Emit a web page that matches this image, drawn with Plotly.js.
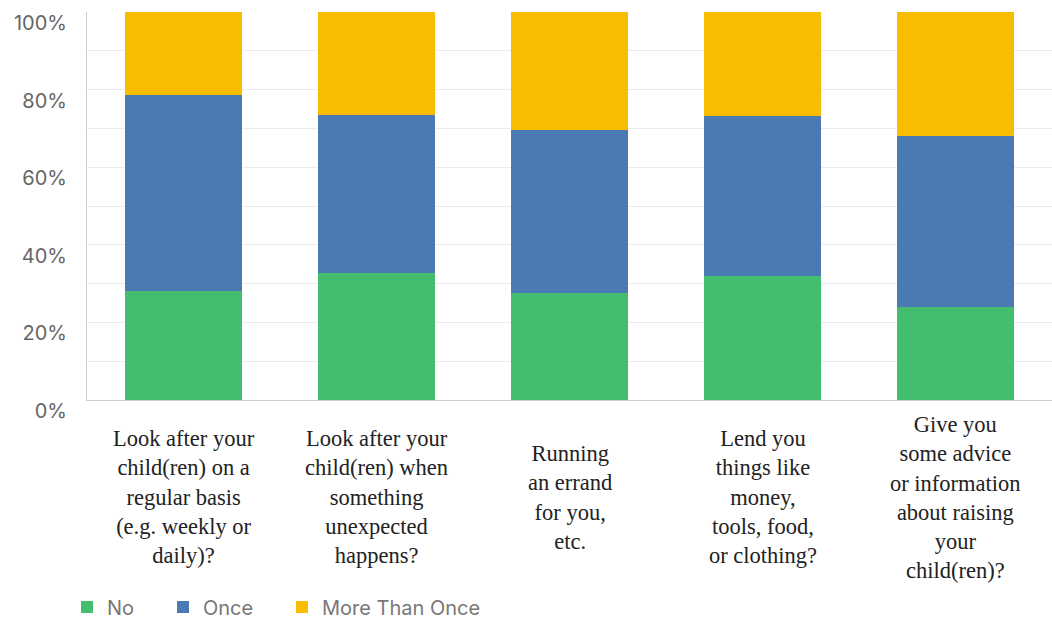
<!DOCTYPE html>
<html>
<head>
<meta charset="utf-8">
<script src="https://cdn.plot.ly/plotly-3.0.1.min.js"></script>
<style>html,body{margin:0;padding:0;background:#fff;}#chart{width:1052px;height:620px;}</style>
</head>
<body>
<div id="chart"></div>
<script>
const categories = [
  "Look after your<br>child(ren) on a<br>regular basis<br>(e.g. weekly or<br>daily)?",
  "Look after your<br>child(ren) when<br>something<br>unexpected<br>happens?",
  "Running<br>an errand<br>for you,<br>etc.",
  "Lend you<br>things like<br>money,<br>tools, food,<br>or clothing?",
  "Give you<br>some advice<br>or information<br>about raising<br>your<br>child(ren)?"
];
const seriesNames = ["No", "Once", "More Than Once"];
const noValues = [28.1, 32.7, 27.6, 32.0, 24.0];
const onceValues = [50.5, 40.8, 42.0, 41.2, 44.0];
const moreValues = [21.4, 26.5, 30.4, 26.8, 32.0];
const yTickVals = [0, 20, 40, 60, 80, 100];
const yTickText = ["0%", "20%", "40%", "60%", "80%", "100%"];

const colors = ["#42be6e", "#4b79b3", "#f8bd00"];
const values = [noValues, onceValues, moreValues];
const legendIds = ["legend", "legend2", "legend3"];
const legendX = [67, 163, 282];
const ids = categories.map((c, i) => i);

const traces = seriesNames.map((name, k) => ({
  type: "bar",
  name: name,
  x: ids,
  y: values[k],
  legend: legendIds[k],
  marker: {color: colors[k], line: {width: 0}},
  hoverinfo: "y+name"
}));

const annotations = categories.map((c, i) => ({
  x: i, xref: "x", y: 0, yref: "paper",
  yanchor: "middle", xanchor: "center",
  yshift: -97,
  text: c, showarrow: false, align: "center",
  font: {family: "Liberation Serif, Times New Roman, serif", size: 22.5, color: "#222"}
}));

const layout = {
  width: 1052, height: 620,
  margin: {l: 87, r: 0, t: 12, b: 220, autoexpand: false},
  barmode: "stack",
  bargap: 0.395,
  paper_bgcolor: "#fff",
  plot_bgcolor: "#fff",
  showlegend: true,
  xaxis: {
    range: [-0.5, 4.5], showticklabels: false, showgrid: false, zeroline: false,
    showline: true, linecolor: "#cfcfcf", linewidth: 1, fixedrange: true
  },
  yaxis: {
    range: [0, 100], tickvals: yTickVals, ticktext: yTickText,
    showgrid: true, gridcolor: "#ececec", gridwidth: 1,
    minor: {dtick: 10, showgrid: true, gridcolor: "#ececec", gridwidth: 1},
    zeroline: false, showline: true, linecolor: "#cfcfcf", linewidth: 1,
    ticklabelposition: "outside bottom", ticklabelstandoff: 15, ticklabelshift: -3,
    tickfont: {family: "Inter, Roboto, sans-serif", size: 20, color: "#666"},
    fixedrange: true
  },
  annotations: annotations
};

legendIds.forEach((id, k) => {
  layout[id] = {
    orientation: "h",
    xref: "container", yref: "container",
    x: legendX[k] / 1052, xanchor: "left",
    y: 0.021, yanchor: "middle",
    font: {family: "Inter, Roboto, sans-serif", size: 20, color: "#777"},
    bgcolor: "rgba(0,0,0,0)", borderwidth: 0
  };
});

Plotly.newPlot("chart", traces, layout, {displayModeBar: false, staticPlot: true});
</script>
</body>
</html>
